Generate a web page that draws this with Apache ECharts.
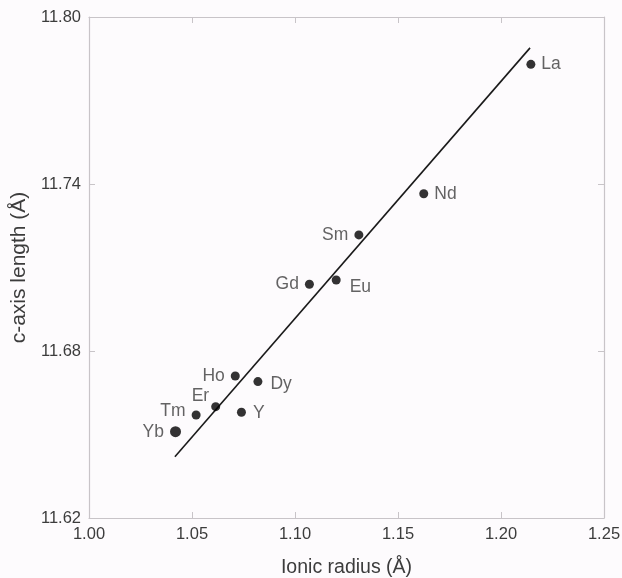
<!DOCTYPE html>
<html><head><meta charset="utf-8">
<script src="https://cdn.jsdelivr.net/npm/echarts@6/dist/echarts.min.js"></script>
<style>html,body{margin:0;padding:0;background:#fdfbfd}#c{width:622px;height:578px}</style>
</head><body><div id="c"></div>
<script>
const elements = ['La','Nd','Sm','Eu','Gd','Ho','Dy','Er','Y','Tm','Yb'];
const ionicRadius = [1.2145,1.1625,1.131,1.120,1.107,1.071,1.082,1.0615,1.074,1.052,1.042];
const cAxisLength = [11.783,11.7365,11.7217,11.7055,11.704,11.671,11.669,11.660,11.658,11.657,11.651];
const fitX = [1.0417,1.2141];
const fitY = [11.642,11.7889];
const xTicks = [1.00,1.05,1.10,1.15,1.20,1.25];
const yTicks = [11.62,11.68,11.74,11.80];

const labelPlacement = {
  La:{position:'right'}, Nd:{position:'right'}, Sm:{position:'left'},
  Eu:{position:'right',offset:[3,7]}, Gd:{position:'left'}, Ho:{position:'left'},
  Dy:{position:'right',offset:[2,3]}, Er:{position:'left',offset:[4,-10]},
  Y:{position:'right',offset:[1,1]}, Tm:{position:'left',offset:[0,-4]}, Yb:{position:'left'}
};
const chart = echarts.init(document.getElementById('c'));
const frameColor = '#c8c4c8';
const textColor = '#3c3c3c';
const font = 'Liberation Sans, Arial, sans-serif';
const axisCommon = {
  axisLine:{show:true,onZero:false,lineStyle:{color:frameColor,width:1.2}},
  axisTick:{show:true,inside:true,length:6,lineStyle:{color:frameColor}},
  splitLine:{show:false}
};
chart.setOption({
  backgroundColor:'#fdfbfd',
  animation:false,
  grid:{left:89,right:18,top:17,bottom:60,containLabel:false,outerBoundsMode:'none'},
  xAxis:[
    Object.assign({type:'value',min:xTicks[0],max:xTicks[xTicks.length-1],interval:0.05,
      name:'Ionic radius (Å)',nameLocation:'middle',nameGap:40,
      nameTextStyle:{color:textColor,fontSize:19.5,fontFamily:font},
      axisLabel:{color:textColor,fontSize:16.5,fontFamily:font,margin:8,formatter:v=>v.toFixed(2)}},axisCommon),
    Object.assign({type:'value',position:'top',min:xTicks[0],max:xTicks[xTicks.length-1],interval:0.05,
      axisLabel:{show:false}},axisCommon)
  ],
  yAxis:[
    Object.assign({type:'value',min:yTicks[0],max:yTicks[yTicks.length-1],interval:0.06,
      name:'c-axis length (Å)',nameLocation:'middle',nameGap:58,
      nameTextStyle:{color:textColor,fontSize:21,fontFamily:font},
      axisLabel:{color:textColor,fontSize:16.5,fontFamily:font,margin:8,formatter:v=>v.toFixed(2)}},axisCommon),
    Object.assign({type:'value',position:'right',min:yTicks[0],max:yTicks[yTicks.length-1],interval:0.06,
      axisLabel:{show:false}},axisCommon)
  ],
  series:[
    {type:'line',data:fitX.map((x,i)=>[x,fitY[i]]),symbol:'none',
      lineStyle:{color:'#1a1a1a',width:1.6},z:2},
    {type:'scatter',z:3,
      data:elements.map((n,i)=>({name:n,value:[ionicRadius[i],cAxisLength[i]],
        symbolSize:n==='Yb'?11:9,
        label:Object.assign({show:true,formatter:n,color:textColor,fontSize:17.5,fontFamily:font,distance:6},labelPlacement[n])})),
      itemStyle:{color:'#000'}}
  ]
});
</script></body></html>
